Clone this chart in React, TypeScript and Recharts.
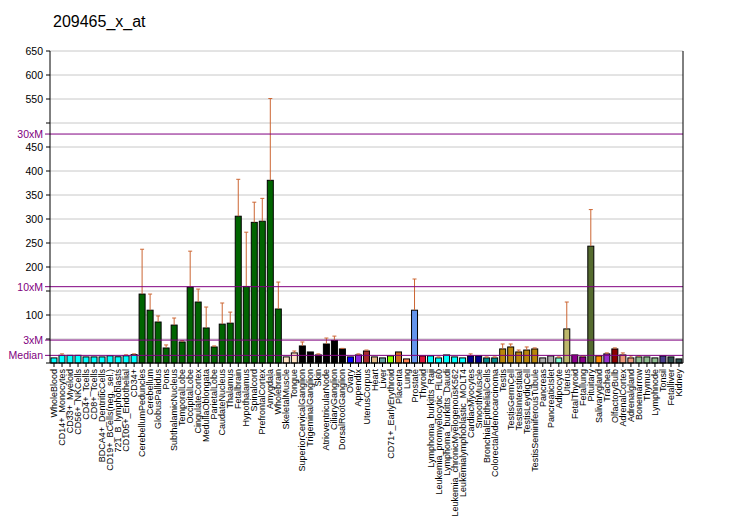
import { BarChart, Bar, Cell, XAxis, YAxis, CartesianGrid, ReferenceLine } from "recharts";

const names = [
  "WholeBlood", "CD14+_Monocytes", "CD33+_Myeloid", "CD56+_NKCells", "CD4+_Tcells", "CD8+_Tcells",
  "BDCA4+_DentriticCells", "CD19+_BCells(neg._sel.)", "721_B_lymphoblasts", "CD105+_Endothelial", "CD34+",
  "CerebellumPeduncles", "Cerebellum", "GlobusPallidus", "Pons", "SubthalamicNucleus", "TemporalLobe",
  "OccipitalLobe", "CingulateCortex", "MedullaOblongata", "ParietalLobe", "CaudateNucleus", "Thalamus",
  "Fetalbrain", "Hypothalamus", "Spinalcord", "PrefrontalCortex", "Amygdala", "Wholebrain",
  "SkeletalMuscle", "Tongue", "SuperiorCervicalGanglion", "TrigeminalGanglion", "Skin",
  "AtrioventricularNode", "CiliaryGanglion", "DorsalRootGanglion", "Ovary", "Appendix", "UterusCorpus",
  "Heart", "Liver", "CD71+_EarlyErythroid", "Placenta", "Lung", "Prostate", "Thyroid",
  "Lymphoma_burkitts_Raji", "Leukemia_promyelocytic_HL60", "Lymphoma_burkitts_Daudi",
  "Leukemia_chronicMyelogenousK562", "Leukemialymphoblastic_MOLT4", "CardiacMyocytes", "SmoothMuscle",
  "BronchialEpithelialCells", "ColorectalAdenocarcinoma", "Testis", "TestisGermCell", "TestisInterstitial",
  "TestisLeydigCell", "TestisSeminiferousTubule", "Pancreas", "PancreaticIslet", "Adipocyte", "Uterus",
  "FetalThyroid", "Fetallung", "Pituitary", "Salivarygland", "Trachea", "OlfactoryBulb", "AdrenalCortex",
  "Adrenalgland", "Bonemarrow", "Thymus", "Lymphnode", "Tonsil", "Fetalliver", "Kidney",
];

const values = [
  10.6, 16, 16, 16, 12.7, 12.7, 12.7, 15, 13, 15, 17.5,
  143.6, 110, 85.4, 31.3, 79, 43.8, 158, 127, 73, 33.4, 81, 83, 305.8, 159.5, 293, 295.4, 380.6, 112.5,
  12.7, 21, 35.5, 23, 16.8, 39.6, 47, 29.3, 12.7, 16.8, 25, 12.7, 10.6, 14.8, 23, 8.5, 110, 14.8,
  14.8, 10.6, 16.8, 12.7, 10.6, 14.8, 14.8, 10.6, 10.6, 29.3, 33.4, 23, 27, 29.3, 10.6, 14.8, 10.6, 71,
  16.8, 12.7, 243.4, 14.8, 19, 29.3, 16.8, 10.6, 12.7, 12.7, 10.6, 14.8, 12.7, 8.5,
];

// top of the error whisker (null = none drawn)
const upper: (number | null)[] = [
  null, 19, null, null, null, null, null, null, null, 17, 19,
  237, 143.6, 98, 37.6, 93.7, 46.6, 233, 154, 116.6, 35.5, 125, 106, 382.7, 272.5, 335, 343, 551, 168.6,
  null, 25, 43.8, null, 19, 52, 56, 30.5, null, 19, 27, null, null, null, null, null, 175, null,
  null, 12.7, null, null, null, 19, null, 12.7, 12.7, 39.6, 39.6, 27, 33.4, 31.4, null, null, 12.7, 127,
  null, 14.8, 319.6, null, 21, 31.4, 21, 14.8, 14.8, null, null, null, null, null,
];

const barColors = [
  ...Array(11).fill("#00FFFF"),
  ...Array(18).fill("#006400"),
  "#FFE4C4", "#FFE4C4",
  ...Array(6).fill("#000000"),
  "#0000FF", "#8A2BE2", "#A52A2A", "#DEB887", "#5F9EA0", "#7FFF00", "#D2691E", "#FF7F50", "#6495ED", "#DC143C",
  ...Array(5).fill("#00FFFF"),
  "#00008B", "#00008B", "#008B8B", "#008B8B",
  ...Array(5).fill("#B8860B"),
  "#A9A9A9", "#A9A9A9", "#7FFFD4", "#BDB76B", "#8B008B", "#8B008B", "#556B2F", "#FF8C00", "#9932CC", "#8B0000",
  "#E9967A", "#E9967A", "#8FBC8F", "#8FBC8F", "#8FBC8F", "#483D8B", "#2F4F4F", "#2F4F4F",
];

const yTicks = [0, 50, 100, 150, 200, 250, 300, 350, 400, 450, 500, 550, 600, 650];
const hiddenLeft = [0, 50, 150, 500];
const MEDIAN = 15.9;
const refLines = [
  { label: "Median", value: MEDIAN },
  { label: "3xM", value: MEDIAN * 3 },
  { label: "10xM", value: MEDIAN * 10 },
  { label: "30xM", value: MEDIAN * 30 },
];

const data = names.map((name, i) => ({ name, value: values[i], upper: upper[i] }));

const FONT = "'Liberation Sans', Arial, sans-serif";
const PURPLE = "#800080";

const BarShape = (props: any) => {
  const { x, y, width, height, payload, fill } = props;
  const k = payload.value ? height / payload.value : 0;
  const cx = x + width / 2;
  const top = payload.upper != null ? y - (payload.upper - payload.value) * k : null;
  return (
    <g>
      <rect x={x} y={y} width={width} height={height} fill={fill} stroke="#000" strokeWidth={1} />
      {top != null && (
        <g stroke="#CC6633" strokeWidth={1}>
          <line x1={cx} y1={y} x2={cx} y2={top} />
          <line x1={cx - 2} y1={top} x2={cx + 2} y2={top} />
        </g>
      )}
    </g>
  );
};

const XTick = (props: any) => {
  const { x, y, payload } = props;
  return (
    <text
      transform={`translate(${x},${y}) rotate(-90)`}
      textAnchor="end"
      dy={3}
      fontSize={9}
      fontFamily={FONT}
      fill="#000"
    >
      {payload.value}
    </text>
  );
};

const LeftTick = (props: any) => {
  const { x, y, payload } = props;
  if (hiddenLeft.includes(payload.value)) return <g />;
  return (
    <text x={x} y={y} dy={4} textAnchor="end" fontSize={10.5} fontFamily={FONT} fill="#000">
      {payload.value}
    </text>
  );
};

const RightTick = (props: any) => {
  const { x, y, payload } = props;
  return (
    <text x={x} y={y} dy={4} textAnchor="start" fontSize={10.5} fontFamily={FONT} fill="#000">
      {payload.value}
    </text>
  );
};

const RefLabel = (props: any) => {
  const { viewBox, text } = props;
  if (!viewBox) return null;
  return (
    <g>
      <line x1={viewBox.x - 5} y1={viewBox.y} x2={viewBox.x} y2={viewBox.y} stroke={PURPLE} />
      <text x={viewBox.x - 7} y={viewBox.y} dy={4} textAnchor="end" fontSize={10.5} fontFamily={FONT} fill={PURPLE}>
        {text}
      </text>
    </g>
  );
};

export default function App() {
  return (
    <div style={{ position: "absolute", left: 0, top: 0, width: 732, height: 530, background: "#fff" }}>
      <BarChart
        width={732}
        height={530}
        data={data}
        margin={{ top: 51, right: 0, bottom: 0, left: 0 }}
        barCategoryGap="12%"
      >
        <text x={53} y={27} fontSize={16} fontFamily={FONT} fill="#000">
          209465_x_at
        </text>
        <CartesianGrid yAxisId="left" vertical={false} stroke="#C8C8C8" />
        <XAxis
          dataKey="name"
          interval={0}
          height={167}
          tick={<XTick />}
          tickSize={4}
          tickMargin={2}
          tickLine={{ stroke: "#000" }}
          axisLine={{ stroke: "#000" }}
        />
        <YAxis
          yAxisId="left"
          width={50}
          domain={[0, 650]}
          ticks={yTicks}
          interval={0}
          tick={<LeftTick />}
          tickSize={4}
          tickMargin={3}
          tickLine={{ stroke: "#000" }}
          axisLine={{ stroke: "#000" }}
        />
        <YAxis
          yAxisId="right"
          orientation="right"
          width={49}
          domain={[0, 650]}
          ticks={yTicks}
          interval={0}
          tick={<RightTick />}
          tickSize={4}
          tickMargin={2}
          tickLine={{ stroke: "#000" }}
          axisLine={{ stroke: "#000" }}
        />
        {refLines.map((r) => (
          <ReferenceLine
            key={r.label}
            yAxisId="left"
            y={r.value}
            stroke={PURPLE}
            strokeWidth={1}
            label={<RefLabel text={r.label} />}
          />
        ))}
        <Bar yAxisId="left" dataKey="value" shape={<BarShape />} isAnimationActive={false}>
          {data.map((d, i) => (
            <Cell key={d.name} fill={barColors[i]} />
          ))}
        </Bar>
      </BarChart>
    </div>
  );
}
